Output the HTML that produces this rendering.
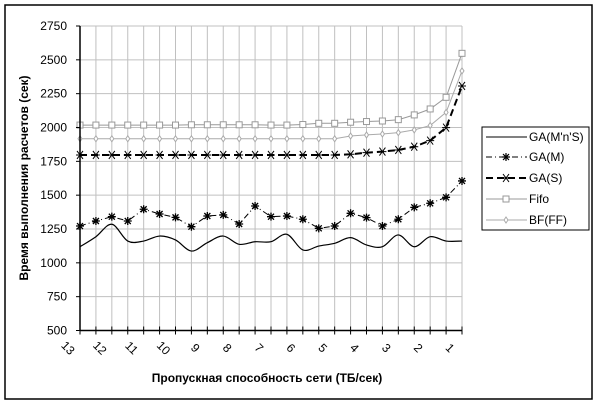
<!DOCTYPE html>
<html><head><meta charset="utf-8">
<style>
body{margin:0;background:#fff;}
svg{display:block;font-family:"Liberation Sans",Arial,sans-serif;}
</style></head>
<body>
<svg id="chart" width="603" height="406" xmlns="http://www.w3.org/2000/svg">
<rect x="5" y="5" width="587" height="394" fill="#fff" stroke="#000" stroke-width="1.5"/>
<g id="grid"></g>
<g id="series"></g>
<g id="axes"></g>
<text x="28" y="178" transform="rotate(-90 28 178)" text-anchor="middle" font-size="12" font-weight="bold">Время выполнения расчетов (сек)</text>
<text x="267" y="382" text-anchor="middle" font-size="12" font-weight="bold">Пропускная способность сети (ТБ/сек)</text>
<g>
<rect x="482" y="127" width="107" height="103" fill="#fff" stroke="#000" stroke-width="1"/>
<g><line x1="486" y1="137" x2="527" y2="137" stroke="#000" stroke-width="1"/><text x="529" y="141" font-size="12">GA(M'n'S)</text></g>
<g><line x1="486" y1="157" x2="527" y2="157" stroke="#000" stroke-width="1" stroke-dasharray="6,3,1,3"/><path d="M502,157h8M506,153v8M503,154l6,6M509,154l-6,6" stroke="#000" stroke-width="1.2"/><text x="529" y="161" font-size="12">GA(M)</text></g>
<g><line x1="486" y1="178" x2="527" y2="178" stroke="#000" stroke-width="2" stroke-dasharray="7,4"/><path d="M502,178h8M503,174l6,8M509,174l-6,8" stroke="#000"/><text x="529" y="182" font-size="12">GA(S)</text></g>
<g><line x1="486" y1="199" x2="527" y2="199" stroke="#999" stroke-width="1"/><rect x="503" y="196" width="6" height="6" fill="#fff" stroke="#999"/><text x="529" y="203" font-size="12">Fifo</text></g>
<g><line x1="486" y1="220" x2="527" y2="220" stroke="#aaa" stroke-width="1"/><path d="M506,217l2,3l-2,3l-2,-3z" fill="#fff" stroke="#aaa"/><text x="529" y="224" font-size="12">BF(FF)</text></g>
</g>
</svg>
<script>
const xLabels=["13","12","11","10","9","8","7","6","5","4","3","2","1"];
const yTicks=[500,750,1000,1250,1500,1750,2000,2250,2500,2750];
const gaMnS=[1119,1193,1285,1161,1161,1198,1169,1087,1149,1198,1137,1156,1156,1211,1095,1124,1144,1186,1132,1119,1206,1119,1193,1161,1161];
const gaM=[1272,1309,1341,1309,1396,1361,1336,1267,1346,1354,1287,1420,1341,1346,1322,1255,1272,1366,1334,1272,1322,1410,1440,1484,1605];
const gaS=[1797,1797,1797,1797,1797,1797,1797,1797,1797,1797,1797,1797,1797,1797,1797,1797,1797,1802,1814,1822,1834,1858,1903,1999,2307];
const fifo=[2018,2018,2018,2018,2018,2018,2018,2020,2020,2020,2020,2020,2018,2018,2022,2031,2031,2039,2044,2048,2058,2093,2137,2223,2548];
const bfff=[1917,1917,1917,1917,1917,1917,1917,1917,1917,1917,1917,1917,1917,1917,1917,1917,1917,1937,1945,1952,1962,1982,2015,2112,2418];

const NS="http://www.w3.org/2000/svg";
const X0=80,X1=462,Y0=330.5,Y1=26,VMIN=500,VMAX=2750;
const N=gaMnS.length;
function xs(i){return X0+(X1-X0)*i/(N-1);}
function ys(v){return Y0-(v-VMIN)/(VMAX-VMIN)*(Y0-Y1);}
function mk(tag,attrs,parent){const e=document.createElementNS(NS,tag);for(const k in attrs)e.setAttribute(k,attrs[k]);parent.appendChild(e);return e;}
const grid=document.getElementById('grid'),axes=document.getElementById('axes'),ser=document.getElementById('series');

for(let i=1;i<N;i++){const l=mk('line',{x1:xs(i),x2:xs(i),y1:Y1,y2:Y0,stroke:'#c0c0c0'},grid);

}
yTicks.forEach(v=>{if(v>VMIN){const l=mk('line',{x1:X0,x2:X1,y1:ys(v),y2:ys(v),stroke:'#c0c0c0'},grid);

}
const t=mk('text',{x:67,y:ys(v)+4,'text-anchor':'end','font-size':'12'},axes);t.textContent=v;


mk('line',{x1:X0-4,x2:X0,y1:ys(v),y2:ys(v),stroke:'#000'},axes);});
mk('line',{x1:X0,x2:X0,y1:Y1,y2:Y0,stroke:'#000','stroke-width':1.5},axes);
mk('line',{x1:X0,x2:X1,y1:Y0,y2:Y0,stroke:'#000','stroke-width':1.5},axes);
for(let i=0;i<N;i++)mk('line',{x1:xs(i),x2:xs(i),y1:Y0-4,y2:Y0+4,stroke:'#000'},axes);
xLabels.forEach((s,k)=>{const x=xs(k*2)-12,y=352;const t=mk('text',{x:x,y:y,'text-anchor':'middle','font-size':'12',transform:`rotate(45 ${x} ${y-4})`},axes);t.textContent=s;

});

function poly(arr){return arr.map((v,i)=>(i?'L':'M')+xs(i).toFixed(1)+','+ys(v).toFixed(1)).join('');}
function smooth(arr){const p=arr.map((v,i)=>[xs(i),ys(v)]);let d='M'+p[0][0]+','+p[0][1];
for(let i=0;i<p.length-1;i++){const a=p[Math.max(0,i-1)],b=p[i],c=p[i+1],e=p[Math.min(p.length-1,i+2)];
d+=`C${b[0]+(c[0]-a[0])/6},${b[1]+(c[1]-a[1])/6} ${c[0]-(e[0]-b[0])/6},${c[1]-(e[1]-b[1])/6} ${c[0]},${c[1]}`;}return d;}

let g=mk('g',{},ser);
mk('path',{d:poly(fifo),fill:'none',stroke:'#999'},g);
fifo.forEach((v,i)=>mk('rect',{x:xs(i)-3,y:ys(v)-3,width:6,height:6,fill:'#fff',stroke:'#999'},g));
g=mk('g',{},ser);
mk('path',{d:poly(bfff),fill:'none',stroke:'#aaa'},g);
bfff.forEach((v,i)=>{const x=xs(i),y=ys(v);mk('path',{d:`M${x},${y-3}l2,3l-2,3l-2,-3z`,fill:'#fff',stroke:'#aaa'},g);});
g=mk('g',{},ser);
mk('path',{d:poly(gaS),fill:'none',stroke:'#000','stroke-width':2,'stroke-dasharray':'7,4'},g);
gaS.forEach((v,i)=>{const x=xs(i),y=ys(v);mk('path',{d:`M${x-4},${y}h8M${x-3},${y-4}l6,8M${x+3},${y-4}l-6,8`,stroke:'#000','stroke-width':1,fill:'none'},g);});
g=mk('g',{},ser);
mk('path',{d:poly(gaM),fill:'none',stroke:'#000','stroke-dasharray':'6,3,1,3'},g);
gaM.forEach((v,i)=>{const x=xs(i),y=ys(v);mk('path',{d:`M${x-4},${y}h8M${x},${y-4}v8M${x-3},${y-3}l6,6M${x+3},${y-3}l-6,6`,stroke:'#000','stroke-width':1.3,fill:'none'},g);});
g=mk('g',{},ser);
mk('path',{d:smooth(gaMnS),fill:'none',stroke:'#000','stroke-width':1.2},g);
</script>
</body></html>
